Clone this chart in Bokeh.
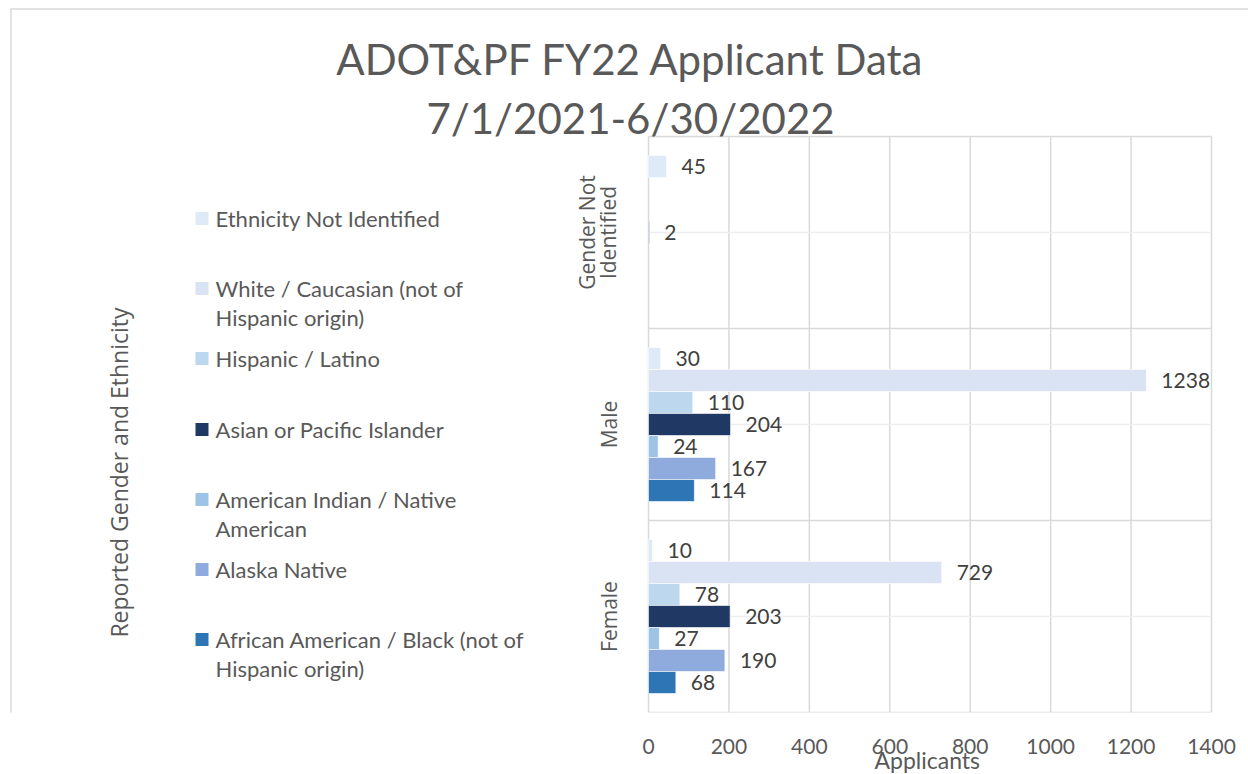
import math
from bokeh.plotting import figure
from bokeh.models import Range1d, FixedTicker, ColumnDataSource, Title
from bokeh.core.properties import value
from bokeh.embed import file_html
from bokeh.resources import INLINE

# ---------------- data ----------------
title_lines = ["ADOT&PF FY22 Applicant Data", "7/1/2021-6/30/2022"]
genders = ["Female", "Male", "Gender Not\nIdentified"]          # bottom -> top
ethnicities = [
    "Ethnicity Not Identified",
    "White / Caucasian (not of\nHispanic origin)",
    "Hispanic / Latino",
    "Asian or Pacific Islander",
    "American Indian / Native\nAmerican",
    "Alaska Native",
    "African American / Black (not of\nHispanic origin)",
]
colors = ["#DEEBF7", "#DAE3F3", "#BDD7EE", "#203864", "#9DC3E6", "#8FAADC", "#2E75B6"]
female = [10, 729, 78, 203, 27, 190, 68]
male = [30, 1238, 110, 204, 24, 167, 114]
gender_not_identified = [45, None, None, 2, None, None, None]
values_by_gender = [female, male, gender_not_identified]
x_ticks = [0, 200, 400, 600, 800, 1000, 1200, 1400]
x_title = "Applicants"
y_title = "Reported Gender and Ethnicity"

# ---------------- layout / style constants (page pixels) ----------------
W, H = 1248, 774
FR_L, FR_R, FR_T, FR_B = 8, 1248, 6, 712      # drawing frame
PLOT_L, PLOT_R, PLOT_T = 648, 1211, 136       # value-axis plot area
X_MAX = x_ticks[-1]
KX = (PLOT_R - PLOT_L) / X_MAX                 # px per applicant
KY = (FR_B - PLOT_T) / len(genders)            # px per category
CAL = "Lato"
SEG = "Open Sans"
GREY = "#595959"
GRID = "#d9d9d9"
STEP = 22 / KY          # bar pitch in category units

# ---------------- sources ----------------
ys, vals, cols, labs = [], [], [], []
n = len(ethnicities)
for gi, series in enumerate(values_by_gender):
    for j, v in enumerate(series):
        if v is None:
            continue
        ys.append(gi + 0.5 + ((n - 1) / 2 - j) * STEP)
        vals.append(v)
        cols.append(colors[j])
        labs.append(str(v))
src = ColumnDataSource(dict(y=ys, value=vals, color=cols, label=labs))

p = figure(width=W, height=H, output_backend="svg", toolbar_location=None,
           x_range=Range1d((FR_L - PLOT_L) / KX, X_MAX + (FR_R - PLOT_R) / KX),
           y_range=Range1d(0, (FR_B - FR_T) / KY),
           min_border_left=FR_L, min_border_right=W - FR_R,
           min_border_top=FR_T, min_border_bottom=H - FR_B,
           background_fill_color="white", border_fill_color="white")
p.outline_line_color = None
p.grid.visible = False
p.yaxis.visible = False

# page-pixel helper ranges for free-standing texts
p.extra_x_ranges["px"] = Range1d(FR_L, FR_R)
p.extra_y_ranges["py"] = Range1d(FR_B, FR_T)

# x axis
xa = p.xaxis[0]
xa.ticker = FixedTicker(ticks=x_ticks)
xa.axis_line_color = None
xa.major_tick_line_color = None
xa.minor_tick_line_color = None
xa.major_label_standoff = 20
xa.major_label_text_font = CAL
xa.major_label_text_font_size = "21px"
xa.major_label_text_color = GREY

p.add_layout(Title(text=x_title, align="left", offset=929 - FR_L - 55, standoff=-25,
                   text_font=CAL, text_font_size="23px", text_color=GREY,
                   text_font_style="normal"), "below")

# grid lines
ncat = len(genders)
p.segment(x0=x_ticks, x1=x_ticks, y0=[0] * len(x_ticks), y1=[ncat] * len(x_ticks),
          line_color=GRID, line_width=1.5)
p.segment(x0=[0] * ncat, x1=[X_MAX] * ncat, y0=[i + 0.5 for i in range(ncat)],
          y1=[i + 0.5 for i in range(ncat)], line_color="#eeeeee", line_width=1.5)
p.segment(x0=[0] * (ncat + 1), x1=[X_MAX] * (ncat + 1), y0=list(range(ncat + 1)),
          y1=list(range(ncat + 1)), line_color=GRID, line_width=1.5)

# bars
p.hbar(y="y", left=0, right="value", height=STEP, fill_color="color",
       line_color="white", line_width=0.6, source=src)

# data labels
p.text(x="value", y="y", text="label", source=src, x_offset=15,
       text_baseline="middle", text_font=value(CAL),
       text_font_size="21px", text_color="#404040")

# category labels (rotated)
p.text(x=[622] * ncat, y=[i + 0.5 for i in range(ncat)], text=genders,
       x_range_name="px", angle=math.pi / 2, text_align="center",
       text_baseline="bottom", text_font=value(SEG), text_font_size="21px",
       text_color=GREY, text_line_height=0.78)

# title
p.text(x=[630, 630], y=[58, 117], text=title_lines, x_range_name="px",
       y_range_name="py", text_align="center", text_baseline="middle",
       text_font=value(CAL), text_font_size="42px", text_color=GREY)

# y title
p.text(x=[118], y=[472], text=[y_title], x_range_name="px", y_range_name="py",
       angle=math.pi / 2, text_align="center", text_baseline="middle",
       text_font=value(SEG), text_font_size="23px", text_color=GREY)

# legend
LINE = 29
LEG_FS = 22
legend_y = [218, 288, 358, 429, 499, 569, 639]
p.rect(x=[201.5] * n, y=legend_y, width=13, height=13, fill_color=colors,
       line_color=None, x_range_name="px", y_range_name="py")
text_y = [ly + name.count("\n") * LINE / 2 for name, ly in zip(ethnicities, legend_y)]
p.text(x=[215] * n, y=text_y, text=ethnicities, x_range_name="px", y_range_name="py",
       text_align="left", text_baseline="middle", text_font=value(CAL),
       text_font_size=f"{LEG_FS}px", text_color=GREY,
       text_line_height=LINE / (1.2 * LEG_FS))

# chart-area border (left / top)
p.line(x=[10.5, 10.5, 1300], y=[900, 8.5, 8.5], x_range_name="px", y_range_name="py",
       line_color=GRID, line_width=1.5)

open("out.html", "w").write(file_html(p, INLINE))
